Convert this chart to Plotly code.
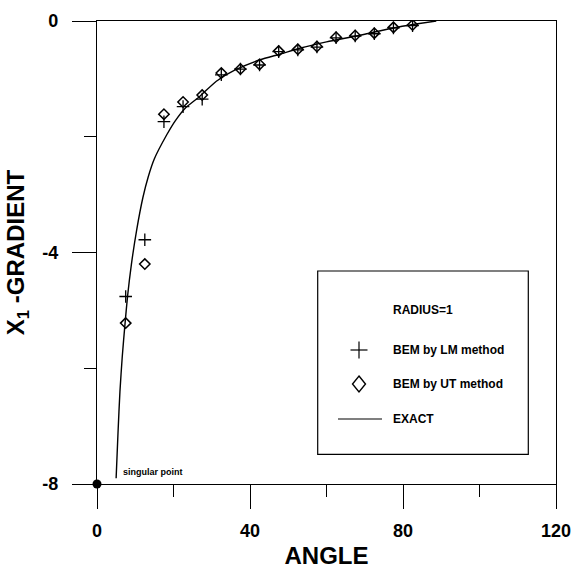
import plotly.graph_objects as go

# ---- data ----
angle_pts = [7.5, 12.5, 17.5, 22.5, 27.5, 32.5, 37.5, 42.5, 47.5, 52.5, 57.5, 62.5, 67.5, 72.5, 77.5, 82.5]
grad_lm = [-4.76, -3.78, -1.74, -1.48, -1.35, -0.93, -0.83, -0.76, -0.53, -0.50, -0.45, -0.29, -0.26, -0.22, -0.12, -0.08]
grad_ut = [-5.22, -4.20, -1.61, -1.40, -1.28, -0.90, -0.83, -0.75, -0.52, -0.49, -0.44, -0.28, -0.25, -0.21, -0.11, -0.07]

exact_angle = [5.0, 5.5, 6.0, 6.6, 7.3, 8.0, 9.0, 10.4, 12.0, 13.4, 15.0, 18.2, 20.5, 23.0, 26.9,
               31.2, 36.0, 42.6, 48.0, 53.0, 60.0, 70.0, 77.5, 82.6, 88.7]
exact_grad = [-7.9, -7.1, -6.4, -5.8, -5.25, -4.75, -4.2, -3.6, -3.05, -2.69, -2.38, -1.97, -1.72, -1.51, -1.30,
              -1.04, -0.85, -0.67, -0.57, -0.47, -0.36, -0.23, -0.12, -0.06, 0.0]

singular_x = [0]
singular_y = [-8]

x_tickvals = [0, 40, 80, 120]
x_ticktext = ["0", "40", "80", "120"]
y_tickvals = [0, -4, -8]
y_ticktext = ["0", "-4", "-8"]

W, H = 572, 569
PL, PR, PT, PB = 97, 556, 21, 484          # plot area in page pixels
L, T = PL, PT
R, B = W - PR, H - PB
PW, PH = PR - PL, PB - PT


def px(x):
    return (x - PL) / PW


def py(y):
    return (PB - y) / PH


fig = go.Figure()
fig.add_trace(go.Scatter(x=exact_angle, y=exact_grad, mode="lines",
                         line=dict(color="black", width=1.4, shape="spline", smoothing=0.6),
                         showlegend=False, cliponaxis=False))
fig.add_trace(go.Scatter(x=angle_pts, y=grad_lm, mode="markers",
                         marker=dict(symbol="cross-thin", size=9, line=dict(color="black", width=1.3)),
                         showlegend=False))
fig.add_trace(go.Scatter(x=angle_pts, y=grad_ut, mode="markers",
                         marker=dict(symbol="diamond-open", size=8, color="black", line=dict(color="black", width=1.5)),
                         showlegend=False))
fig.add_trace(go.Scatter(x=singular_x, y=singular_y, mode="markers",
                         marker=dict(symbol="circle", size=9, color="black"),
                         showlegend=False, cliponaxis=False))

shapes = []
# legend box
shapes.append(dict(type="rect", xref="paper", yref="paper", x0=px(317.7), x1=px(528.3), y0=py(454.3), y1=py(271),
                   line=dict(color="black", width=1.2), fillcolor="white", layer="above"))
# plus symbol
shapes.append(dict(type="line", xref="paper", yref="paper", x0=px(350.5), x1=px(367.5), y0=py(350), y1=py(350),
                   line=dict(color="black", width=1.2)))
shapes.append(dict(type="line", xref="paper", yref="paper", x0=px(359), x1=px(359), y0=py(341.5), y1=py(358.5),
                   line=dict(color="black", width=1.2)))
# diamond symbol
dpath = "M {a},{b} L {c},{d} L {a},{e} L {f},{d} Z".format(
    a=px(359), b=py(376), c=px(365.5), d=py(384), e=py(392), f=px(352.5))
shapes.append(dict(type="path", xref="paper", yref="paper", path=dpath, line=dict(color="black", width=1.4)))
# line symbol
shapes.append(dict(type="line", xref="paper", yref="paper", x0=px(338), x1=px(382), y0=py(419), y1=py(419),
                   line=dict(color="black", width=1.2)))

lfont = dict(family="Liberation Sans, Arial, sans-serif", size=12, color="black")
annotations = []
for txt, yy in [("<b>RADIUS=1</b>", 310), ("<b>BEM by LM method</b>", 350),
                ("<b>BEM by UT method</b>", 384), ("<b>EXACT</b>", 419)]:
    annotations.append(dict(text=txt, xref="paper", yref="paper", x=px(391), y=py(yy),
                            xanchor="left", yanchor="middle", showarrow=False, font=lfont))
annotations.append(dict(text="<b>singular point</b>", xref="paper", yref="paper", x=px(121), y=py(472),
                        xanchor="left", yanchor="middle", showarrow=False,
                        font=dict(family="Liberation Sans, Arial, sans-serif", size=9, color="black")))

tfont = dict(family="Liberation Sans, Arial, sans-serif", size=18, color="black")
axfont = dict(family="Liberation Sans, Arial, sans-serif", size=24, color="black")

fig.update_layout(
    width=W, height=H,
    margin=dict(l=L, r=R, t=T, b=B, autoexpand=False),
    paper_bgcolor="white", plot_bgcolor="white",
    shapes=shapes, annotations=annotations,
    xaxis=dict(range=[0, 120], tickvals=x_tickvals, ticktext=["<b>%s</b>" % t for t in x_ticktext],
               ticks="outside", ticklen=24, tickwidth=1.3, tickcolor="black", automargin=False,
               minor=dict(ticks="outside", ticklen=12, tickwidth=1.2, tickcolor="black", dtick=20, tick0=0),
               showline=True, linecolor="black", linewidth=1.4, mirror=True,
               showgrid=False, zeroline=False, tickfont=tfont, ticklabelstandoff=6,
               title=dict(text="<b>ANGLE</b>", font=axfont, standoff=12)),
    yaxis=dict(range=[-8, 0], tickvals=y_tickvals, ticktext=["<b>%s</b>" % t for t in y_ticktext],
               ticks="outside", ticklen=24, tickwidth=1.3, tickcolor="black", automargin=False,
               minor=dict(ticks="outside", ticklen=12, tickwidth=1.2, tickcolor="black", dtick=2, tick0=0),
               showline=True, linecolor="black", linewidth=1.4, mirror=True,
               showgrid=False, zeroline=False, tickfont=tfont, ticklabelstandoff=10,
               title=dict(text="<b>X<sub>1</sub> -GRADIENT</b>", font=axfont, standoff=10)),
)

fig.write_html("out.html", config={"displayModeBar": False},
               post_script="document.body.style.margin='0';document.body.style.overflow='hidden';")
